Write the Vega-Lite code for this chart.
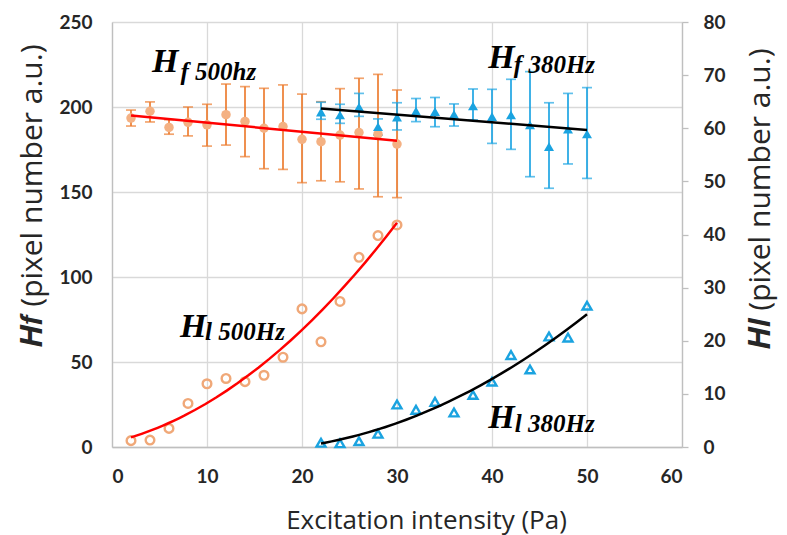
{
  "$schema": "https://vega.github.io/schema/vega-lite/v6.json",
  "width": 570,
  "height": 425,
  "autosize": "none",
  "padding": {"left": 112, "top": 22, "right": 105, "bottom": 88},
  "background": "white",
  "config": {"view": {"stroke": null}},
  "datasets": {
    "hf500": [
      {"x": 2, "y": 193.5, "lo": 188.8, "hi": 198.2},
      {"x": 4, "y": 197.5, "lo": 191.2, "hi": 203},
      {"x": 6, "y": 188, "lo": 184, "hi": 192.5},
      {"x": 8, "y": 191, "lo": 183, "hi": 200},
      {"x": 10, "y": 189.5, "lo": 177, "hi": 201.6},
      {"x": 12, "y": 195.5, "lo": 177.6, "hi": 213.5},
      {"x": 14, "y": 191.5, "lo": 170.8, "hi": 212},
      {"x": 16, "y": 187.5, "lo": 163.7, "hi": 211},
      {"x": 18, "y": 188.5, "lo": 163.3, "hi": 213},
      {"x": 20, "y": 181, "lo": 155.5, "hi": 207.6},
      {"x": 22, "y": 179.6, "lo": 156.6, "hi": 203.1},
      {"x": 24, "y": 183.5, "lo": 156, "hi": 210.8},
      {"x": 26, "y": 185, "lo": 151.8, "hi": 216.9},
      {"x": 28, "y": 184, "lo": 147.2, "hi": 219.2},
      {"x": 30, "y": 178.2, "lo": 146.7, "hi": 210}
    ],
    "hf380": [
      {"x": 22, "y": 197, "lo": 192.8, "hi": 202.8},
      {"x": 24, "y": 195.3, "lo": 190.4, "hi": 201.6},
      {"x": 26, "y": 200, "lo": 194.5, "hi": 208},
      {"x": 28, "y": 188.4, "lo": 183.5, "hi": 193},
      {"x": 30, "y": 194, "lo": 186.5, "hi": 202.5},
      {"x": 32, "y": 197.6, "lo": 191.4, "hi": 205},
      {"x": 34, "y": 197.3, "lo": 188.4, "hi": 205.6},
      {"x": 36, "y": 195.7, "lo": 188.8, "hi": 201.8},
      {"x": 38, "y": 200.6, "lo": 192.4, "hi": 210.6},
      {"x": 40, "y": 194.3, "lo": 178.6, "hi": 210.4},
      {"x": 42, "y": 195.3, "lo": 175.1, "hi": 216.3},
      {"x": 44, "y": 189.4, "lo": 159, "hi": 220.8},
      {"x": 46, "y": 176.7, "lo": 152.2, "hi": 202.5},
      {"x": 48, "y": 186.9, "lo": 166.5, "hi": 208},
      {"x": 50, "y": 184.1, "lo": 158, "hi": 211.4}
    ],
    "hl500": [
      {"x": 2, "y": 1.2}, {"x": 4, "y": 1.3}, {"x": 6, "y": 3.5}, {"x": 8, "y": 8.2},
      {"x": 10, "y": 11.9}, {"x": 12, "y": 12.9}, {"x": 14, "y": 12.3}, {"x": 16, "y": 13.5},
      {"x": 18, "y": 16.9}, {"x": 20, "y": 26.0}, {"x": 22, "y": 19.8}, {"x": 24, "y": 27.4},
      {"x": 26, "y": 35.7}, {"x": 28, "y": 39.8}, {"x": 30, "y": 41.8}
    ],
    "hl380": [
      {"x": 22, "y": 0.8}, {"x": 24, "y": 0.7}, {"x": 26, "y": 1.1}, {"x": 28, "y": 2.5},
      {"x": 30, "y": 8.0}, {"x": 32, "y": 7.0}, {"x": 34, "y": 8.5}, {"x": 36, "y": 6.5},
      {"x": 38, "y": 9.8}, {"x": 40, "y": 12.3}, {"x": 42, "y": 17.3}, {"x": 44, "y": 14.6},
      {"x": 46, "y": 20.8}, {"x": 48, "y": 20.6}, {"x": 50, "y": 26.6}
    ],
    "labels": [
      {"x": 4.2, "y": 220.6, "t": "H", "k": "big"},
      {"x": 7.2, "y": 216, "t": "f 500hz", "k": "sub"},
      {"x": 39.6, "y": 223, "t": "H", "k": "big"},
      {"x": 42.3, "y": 220, "t": "f 380Hz", "k": "sub"},
      {"x": 7.15, "y": 64.7, "t": "H", "k": "big"},
      {"x": 9.8, "y": 63, "t": "l 500Hz", "k": "sub"},
      {"x": 39.6, "y": 11.2, "t": "H", "k": "big"},
      {"x": 42.4, "y": 8.8, "t": "l 380Hz", "k": "sub"}
    ]
  },
  "encoding": {
    "x": {
      "field": "x", "type": "quantitative",
      "scale": {"domain": [0, 60], "nice": false},
      "title": "Excitation intensity (Pa)",
      "axis": {
        "values": [0, 10, 20, 30, 40, 50, 60],
        "grid": true, "gridColor": "#d9d9d9", "gridWidth": 1.3,
        "domainColor": "#bfbfbf", "domainWidth": 1.3,
        "ticks": false, "labelPadding": 20,
        "labelFont": "Lato", "labelFontSize": 19, "labelFontWeight": "bold", "labelColor": "#262626",
        "titleFont": "Open Sans", "titleFontSize": 26, "titleFontWeight": "normal", "titleColor": "#262626",
        "titleX": 314, "titleY": 73, "titleBaseline": "middle", "titleAlign": "center"
      }
    }
  },
  "layer": [
    {
      "encoding": {
        "y": {
          "field": "y", "type": "quantitative",
          "scale": {"domain": [0, 250], "nice": false},
          "title": "𝑯𝒇 (pixel number a.u.)",
          "axis": {
            "orient": "left",
            "values": [0, 50, 100, 150, 200, 250],
            "grid": true, "gridColor": "#d9d9d9", "gridWidth": 1.3,
            "domainColor": "#bfbfbf", "domainWidth": 1.3,
            "ticks": false, "labelPadding": 20,
            "labelFont": "Lato", "labelFontSize": 19, "labelFontWeight": "bold", "labelColor": "#262626",
            "titleFont": "'Open Sans', 'DejaVu Serif'", "titleFontSize": 30, "titleFontWeight": "normal", "titleColor": "#262626",
            "titleAngle": 270, "titleX": -80, "titleY": 173, "titleBaseline": "middle", "titleAlign": "center"
          }
        }
      },
      "layer": [
        {
          "data": {"name": "hf500"},
          "mark": {"type": "errorbar", "color": "#ed7d31", "thickness": 1.7, "ticks": {"size": 10, "thickness": 1.7}},
          "encoding": {"y": {"field": "lo", "type": "quantitative", "title": "𝑯𝒇 (pixel number a.u.)"}, "y2": {"field": "hi"}}
        },
        {
          "data": {"name": "hf380"},
          "mark": {"type": "errorbar", "color": "#1ea5e3", "thickness": 1.7, "ticks": {"size": 10, "thickness": 1.7}},
          "encoding": {"y": {"field": "lo", "type": "quantitative", "title": "𝑯𝒇 (pixel number a.u.)"}, "y2": {"field": "hi"}}
        },
        {
          "data": {"name": "hf500"},
          "mark": {"type": "point", "shape": "circle", "filled": true, "color": "#f4b183", "opacity": 1, "size": 90}
        },
        {
          "data": {"name": "hf380"},
          "mark": {"type": "point", "shape": "triangle-up", "filled": true, "color": "#1aa3e0", "opacity": 1, "size": 100}
        },
        {
          "data": {"name": "hf500"},
          "transform": [{"regression": "y", "on": "x", "method": "linear", "extent": [2, 30]}],
          "mark": {"type": "line", "color": "#ff0000", "strokeWidth": 2.5}
        },
        {
          "data": {"name": "hf380"},
          "transform": [{"regression": "y", "on": "x", "method": "linear", "extent": [22, 50]}],
          "mark": {"type": "line", "color": "#000000", "strokeWidth": 2.5}
        },
        {
          "data": {"name": "labels"},
          "transform": [{"filter": "datum.k == 'big'"}],
          "mark": {"type": "text", "font": "Liberation Serif", "fontStyle": "italic", "fontWeight": "bold", "fontSize": 34, "align": "left", "baseline": "alphabetic", "color": "#000000"},
          "encoding": {"text": {"field": "t"}}
        },
        {
          "data": {"name": "labels"},
          "transform": [{"filter": "datum.k == 'sub'"}],
          "mark": {"type": "text", "font": "Liberation Serif", "fontStyle": "italic", "fontWeight": "bold", "fontSize": 25, "align": "left", "baseline": "alphabetic", "color": "#000000"},
          "encoding": {"text": {"field": "t"}}
        }
      ]
    },
    {
      "encoding": {
        "y": {
          "field": "y", "type": "quantitative",
          "scale": {"domain": [0, 80], "nice": false},
          "title": "𝑯𝒍 (pixel number a.u.)",
          "axis": {
            "orient": "right",
            "values": [0, 10, 20, 30, 40, 50, 60, 70, 80],
            "grid": false,
            "domainColor": "#bfbfbf", "domainWidth": 1.3,
            "ticks": true, "tickSize": 6, "tickColor": "#bfbfbf", "tickWidth": 1.3,
            "labelPadding": 15,
            "labelFont": "Lato", "labelFontSize": 19, "labelFontWeight": "bold", "labelColor": "#262626",
            "titleFont": "'Open Sans', 'DejaVu Serif'", "titleFontSize": 30, "titleFontWeight": "normal", "titleColor": "#262626",
            "titleAngle": 270, "titleX": 78, "titleY": 176, "titleBaseline": "middle", "titleAlign": "center"
          }
        }
      },
      "layer": [
        {
          "data": {"name": "hl500"},
          "mark": {"type": "point", "shape": "circle", "filled": false, "color": "#f0a878", "strokeWidth": 2.4, "opacity": 1, "size": 75}
        },
        {
          "data": {"name": "hl380"},
          "mark": {"type": "point", "shape": "triangle-up", "filled": false, "color": "#1aa3e0", "strokeWidth": 2.4, "opacity": 1, "size": 80}
        },
        {
          "data": {"name": "hl500"},
          "transform": [{"regression": "y", "on": "x", "method": "poly", "order": 2, "extent": [2, 30]}],
          "mark": {"type": "line", "color": "#ff0000", "strokeWidth": 2.5}
        },
        {
          "data": {"name": "hl380"},
          "transform": [{"regression": "y", "on": "x", "method": "poly", "order": 2, "extent": [22, 50]}],
          "mark": {"type": "line", "color": "#000000", "strokeWidth": 2.5}
        }
      ]
    }
  ],
  "resolve": {"scale": {"y": "independent"}}
}
